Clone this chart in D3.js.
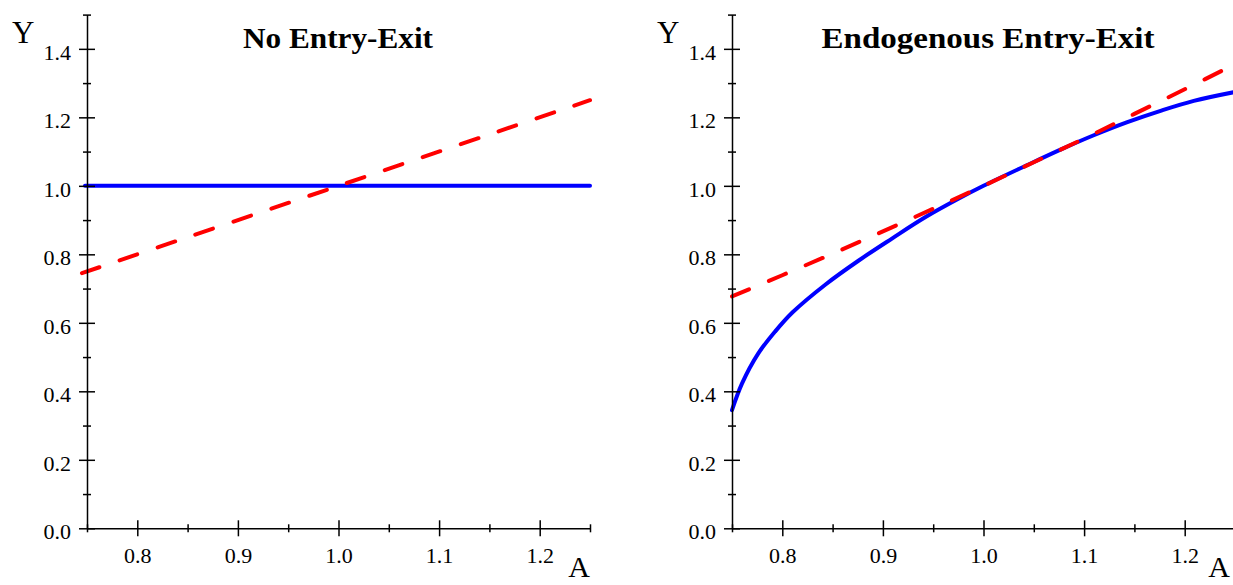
<!DOCTYPE html>
<html>
<head>
<meta charset="utf-8">
<script src="https://cdn.jsdelivr.net/npm/d3@7"></script>
<style>
    body { margin: 0; background: #fff; }
    svg { display: block; font-family: "Liberation Serif", "Times New Roman", serif; }
</style>
</head>
<body>
<div id="chart"></div>
<script>
// tick values
const aMajor = [0.8, 0.9, 1.0, 1.1, 1.2];
const aMinor = [0.75, 0.85, 0.95, 1.05, 1.15, 1.25];
const yMajor = [0.0, 0.2, 0.4, 0.6, 0.8, 1.0, 1.2, 1.4];
const yMinor = [0.1, 0.3, 0.5, 0.7, 0.9, 1.1, 1.3, 1.5];

const titles = ["No Entry-Exit", "Endogenous Entry-Exit"];

// left panel: no entry-exit
const flatA = [0.748, 1.0, 1.25];
const flatY = [1.0, 1.0, 1.0];
const diagA = [0.745, 1.0, 1.25];
const diagY = [0.745, 1.0, 1.25];

// right panel: endogenous entry-exit
const endoA = [0.75, 0.76, 0.776, 0.793, 0.81, 0.843, 0.876, 0.909, 0.942, 0.975, 1.0,
    1.043, 1.076, 1.109, 1.143, 1.176, 1.209, 1.25];
const endoY = [0.345, 0.423, 0.51, 0.575, 0.63, 0.712, 0.782, 0.846, 0.908, 0.962, 1.0,
    1.06, 1.105, 1.147, 1.186, 1.219, 1.248, 1.274];
const tanA = [0.75, 0.80, 0.85, 0.90, 0.95, 1.00, 1.05, 1.10, 1.15, 1.20, 1.25];
const tanY = [0.677, 0.739, 0.802, 0.867, 0.933, 1.0, 1.069, 1.138, 1.21, 1.282, 1.355];

const W = 1233, H = 585;
const panels = [
    { left: 87, right: 590, title: titles[0], titleX: 338, titleW: 190, aEnd: 590,
      solid: [flatA, flatY], dashed: [diagA, diagY] },
    { left: 732, right: 1235, title: titles[1], titleX: 988, titleW: 333, aEnd: 1230,
      solid: [endoA, endoY], dashed: [tanA, tanY] }
];
const plotTop = 14.6, plotBottom = 528.3;
const serif = "'Liberation Serif', 'Times New Roman', serif";

const svg = d3.select("#chart")
    .append("svg")
    .attr("width", W)
    .attr("height", H);

panels.forEach(drawPanel);

function drawPanel(p) {
    const x = d3.scaleLinear().domain([0.75, 1.25]).range([p.left, p.right]);
    const y = d3.scaleLinear().domain([0, 1.5]).range([plotBottom, plotTop]);
    const g = svg.append("g");

    const line = d3.line()
        .x(d => x(d[0]))
        .y(d => y(d[1]))
        .curve(d3.curveCatmullRom.alpha(0.5));

    const pts = ([a, v]) => a.map((d, i) => [d, v[i]]);

    g.append("path")
        .datum(pts(p.solid))
        .attr("d", line)
        .attr("fill", "none")
        .attr("stroke", "#0000ff")
        .attr("stroke-width", 4)
        .attr("stroke-linecap", "round");

    g.append("path")
        .datum(pts(p.dashed))
        .attr("d", line)
        .attr("fill", "none")
        .attr("stroke", "#ff0000")
        .attr("stroke-width", 4)
        .attr("stroke-linecap", "round")
        .attr("stroke-dasharray", "18.5 21.5");

    // y axis, ticks crossing the line
    const yAxis = g.append("g")
        .attr("transform", `translate(${p.left}, 0)`)
        .call(d3.axisLeft(y).tickValues(yMajor).tickSize(8).tickPadding(8)
            .tickSizeOuter(0).tickFormat(d3.format(".1f")));
    yAxis.selectAll(".tick line").attr("x1", 8);
    yAxis.selectAll(".tick text").attr("dy", "0.48em");

    const yAxisMinor = g.append("g")
        .attr("transform", `translate(${p.left}, 0)`)
        .call(d3.axisLeft(y).tickValues(yMinor).tickSize(4).tickSizeOuter(0).tickFormat(""));
    yAxisMinor.selectAll(".tick line").attr("x1", 4);
    yAxisMinor.select(".domain").remove();

    const xAxis = g.append("g")
        .attr("transform", `translate(0, ${plotBottom})`)
        .call(d3.axisBottom(x).tickValues(aMajor).tickSize(8).tickPadding(11)
            .tickSizeOuter(0).tickFormat(d3.format(".1f")));
    xAxis.selectAll(".tick line").attr("y1", -8);

    const xAxisMinor = g.append("g")
        .attr("transform", `translate(0, ${plotBottom})`)
        .call(d3.axisBottom(x).tickValues(aMinor).tickSize(4).tickSizeOuter(0).tickFormat(""));
    xAxisMinor.selectAll(".tick line").attr("y1", -4);
    xAxisMinor.select(".domain").remove();

    g.selectAll(".domain, .tick line")
        .attr("stroke", "#000")
        .attr("stroke-width", 1.5);
    g.selectAll(".tick text")
        .style("font-family", serif)
        .style("font-size", "22px")
        .attr("fill", "#000");

    // axis letters
    g.append("text")
        .attr("x", p.left - 75)
        .attr("y", 43)
        .style("font-family", serif)
        .style("font-size", "31px")
        .text("Y");

    g.append("text")
        .attr("x", p.aEnd)
        .attr("y", 577)
        .attr("text-anchor", "end")
        .style("font-family", serif)
        .style("font-size", "30px")
        .text("A");

    g.append("text")
        .attr("x", p.titleX)
        .attr("y", 48)
        .attr("text-anchor", "middle")
        .attr("textLength", p.titleW)
        .attr("lengthAdjust", "spacingAndGlyphs")
        .style("font-family", serif)
        .style("font-weight", "bold")
        .style("font-size", "30px")
        .text(p.title);
}
</script>
</body>
</html>
